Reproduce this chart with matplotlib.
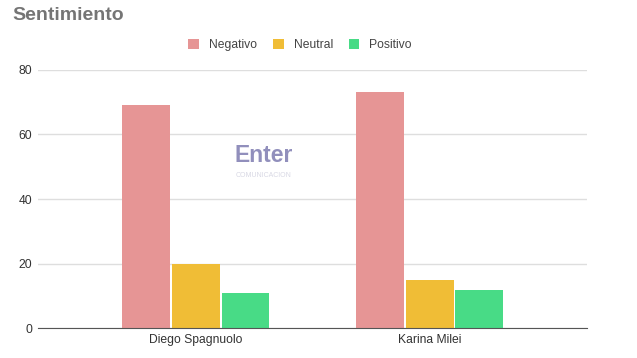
import numpy as np
import matplotlib
matplotlib.use("Agg")
import matplotlib.pyplot as plt

plt.rcParams['font.family'] = ['Liberation Sans', 'DejaVu Sans']

########## Data ##########
candidates = ["Diego Spagnuolo", "Karina Milei"]
series_names = ["Negativo", "Neutral", "Positivo"]
negativo = [69, 73]
neutral = [20, 15]
positivo = [11, 12]
yticks = [0, 20, 40, 60, 80]

colors = ["#E69595", "#F0BD36", "#48DB86"]

fig = plt.figure(figsize=(6.37, 3.58), dpi=100)
ax = fig.add_axes([0.06, 0.083, 0.862, 0.722])

x = np.arange(len(candidates))
width = 0.205
gap = 0.007
values = [negativo, neutral, positivo]
for i, (name, vals) in enumerate(zip(series_names, values)):
    offset = (i - 1) * (width + gap)
    ax.bar(x + offset, vals, width, color=colors[i], label=name, zorder=3)

ax.set_xlim(-0.675, 1.675)
ax.set_ylim(0, 80)
ax.set_yticks(yticks)
ax.set_xticks(x)
ax.set_xticklabels(candidates)
ax.grid(axis="y", color="#dedede", linewidth=1, zorder=0)
for s in ["top", "right", "left"]:
    ax.spines[s].set_visible(False)
ax.spines["bottom"].set_color("#555555")
ax.spines["bottom"].set_zorder(4)
ax.tick_params(axis="both", length=0, labelsize=8.7, colors="#333333")
ax.tick_params(axis="y", pad=4.5)
ax.tick_params(axis="x", pad=4)

fig.text(0.019, 0.958, "Sentimiento", fontsize=14, fontweight="bold",
         color="#757575", ha="left", va="center")

fig.legend(loc="center", bbox_to_anchor=(0.471, 0.874), ncol=3, frameon=False,
           fontsize=8.7, handlelength=0.9, handleheight=0.9, columnspacing=1.3,
           handletextpad=0.83, labelcolor="#444444")

# watermark
fig.text(0.414, 0.567, "Enter", fontsize=16.5, fontweight="bold",
         color="#8583b5", ha="center", va="center", alpha=0.9)
fig.text(0.414, 0.511, "COMUNICACION", fontsize=5,
         color="#d8d8e4", ha="center", va="center")

fig.savefig("out.png", dpi=100)
